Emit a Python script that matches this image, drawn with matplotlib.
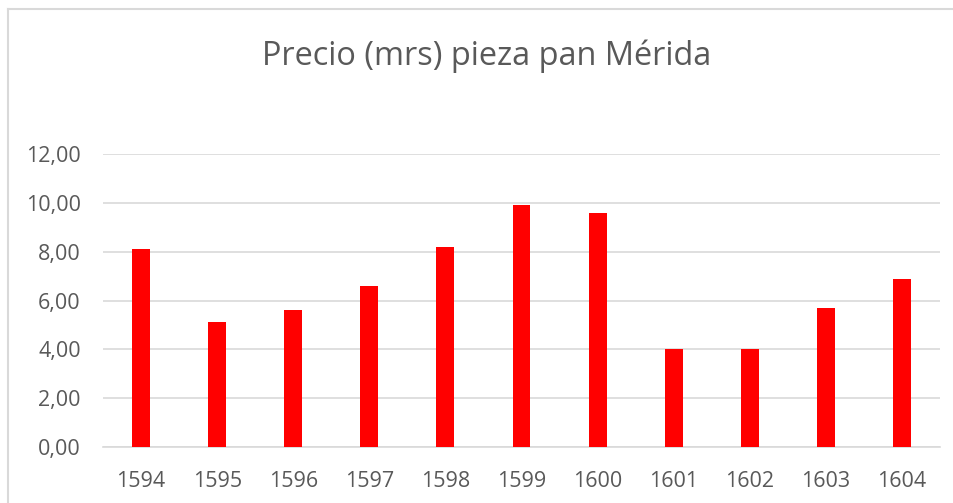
import matplotlib
matplotlib.use("Agg")
import matplotlib.pyplot as plt
from matplotlib.lines import Line2D

years = ["1594", "1595", "1596", "1597", "1598", "1599", "1600", "1601", "1602", "1603", "1604"]
prices = [8.1, 5.1, 5.6, 6.6, 8.2, 9.9, 9.6, 4.0, 4.0, 5.7, 6.9]
yticks = [0, 2, 4, 6, 8, 10, 12]
title = "Precio (mrs) pieza pan Mérida"

plt.rcParams['font.family'] = ['Open Sans', 'DejaVu Sans']
gray = "#595959"

fig = plt.figure(figsize=(9.54, 5.03), dpi=100)
ax = fig.add_axes([103/954, 56/503, (940-103)/954, (447-154)/503])

x = list(range(len(years)))
ax.bar(x, prices, width=0.236, color="#ff0000", zorder=3)
ax.set_xlim(-0.5, len(years) - 0.5)
ax.set_ylim(0, 12)
ax.set_yticks(yticks)
ax.set_yticklabels([f"{v:.2f}".replace(".", ",") for v in yticks])
ax.set_xticks(x)
ax.set_xticklabels(years)
ax.yaxis.grid(True, color="#d9d9d9", linewidth=1.2, zorder=0)
ax.set_axisbelow(True)
for s in ["top", "right", "left"]:
    ax.spines[s].set_visible(False)
ax.spines["bottom"].set_color("#d9d9d9")
ax.spines["bottom"].set_linewidth(1.2)
ax.tick_params(axis="both", length=0, colors=gray, labelsize=15.5)
ax.tick_params(axis="y", pad=16)
ax.tick_params(axis="x", pad=17)

fig.text(487/954, 1 - 56/503, title, ha="center", va="center", fontsize=23.4, color=gray)

# chart border (top and left visible)
fig.add_artist(Line2D([8/954, 1.0], [1 - 9/503, 1 - 9/503], color="#d9d9d9", linewidth=1.5))
fig.add_artist(Line2D([8/954, 8/954], [0, 1 - 9/503], color="#d9d9d9", linewidth=1.5))

fig.savefig("out.png", dpi=100)
